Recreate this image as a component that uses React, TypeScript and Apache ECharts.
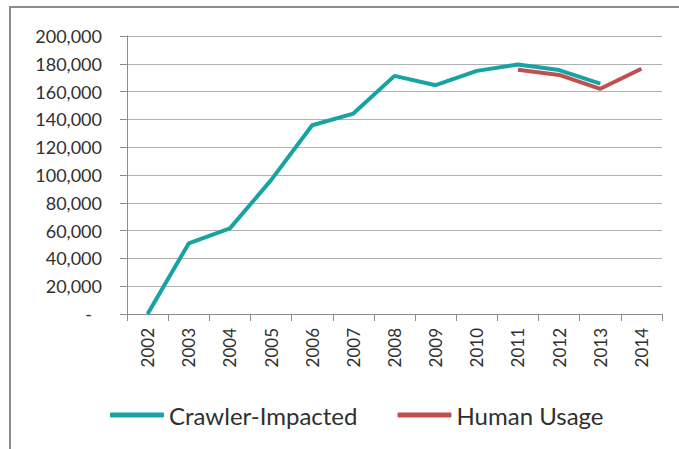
import React, { useEffect, useRef } from "react";
import * as echarts from "echarts";

const years = ["2002", "2003", "2004", "2005", "2006", "2007", "2008", "2009", "2010", "2011", "2012", "2013", "2014"];
const crawlerImpacted = [0, 50800, 61600, 96300, 135800, 144200, 171300, 164600, 174900, 179500, 175500, 165700, null];
const humanUsage = [null, null, null, null, null, null, null, null, null, 175700, 172000, 162000, 176400];
const seriesNames = ["Crawler-Impacted", "Human Usage"];
const seriesColors = ["#17A3A3", "#C0504D"];

export default function App() {
  const ref = useRef<HTMLDivElement>(null);
  useEffect(() => {
    if (!ref.current) return;
    const chart = echarts.init(ref.current, undefined, { renderer: "svg" });
    const font = "Lato";
    chart.setOption({
      animation: false,
      backgroundColor: "#ffffff",
      graphic: [
        {
          type: "rect",
          shape: { x: 10, y: 7, width: 720, height: 500 },
          style: { fill: "none", stroke: "#8c8c8c", lineWidth: 2 },
          silent: true,
        },
      ],
      grid: { left: 127, right: 17, top: 36, bottom: 135 },
      legend: {
        left: 105,
        top: 398,
        icon: "roundRect",
        itemWidth: 54,
        itemHeight: 5,
        itemGap: 40,
        textStyle: { fontFamily: font, fontSize: 24, color: "#303030" },
        data: seriesNames,
      },
      xAxis: {
        type: "category",
        data: years,
        boundaryGap: true,
        axisLine: { lineStyle: { color: "#8c8c8c", width: 1 } },
        axisTick: { show: true, length: 7, lineStyle: { color: "#8c8c8c" } },
        axisLabel: { rotate: 90, margin: 14, fontFamily: font, fontSize: 17, color: "#303030" },
        splitLine: { show: false },
      },
      yAxis: {
        type: "value",
        min: 0,
        max: 200000,
        interval: 20000,
        axisLine: { show: true, lineStyle: { color: "#8c8c8c", width: 1 } },
        axisTick: { show: true, length: 7, lineStyle: { color: "#8c8c8c" } },
        splitLine: { lineStyle: { color: "#b0b0b0", width: 1 } },
        axisLabel: {
          margin: 25,
          fontFamily: font,
          fontSize: 18,
          color: "#303030",
          formatter: (v: number) => (v === 0 ? "{d|-}" : v.toLocaleString("en-US")),
          rich: { d: { fontFamily: font, fontSize: 18, color: "#303030", padding: [0, 10, 0, 0] } },
        },
      },
      series: [
        {
          name: seriesNames[0],
          type: "line",
          data: crawlerImpacted,
          showSymbol: false,
          symbol: "none",
          lineStyle: { width: 4, color: seriesColors[0] },
          itemStyle: { color: seriesColors[0] },
        },
        {
          name: seriesNames[1],
          type: "line",
          data: humanUsage,
          showSymbol: false,
          symbol: "none",
          lineStyle: { width: 4, color: seriesColors[1] },
          itemStyle: { color: seriesColors[1] },
        },
      ],
    });
    return () => chart.dispose();
  }, []);
  return <div ref={ref} style={{ position: "fixed", left: 0, top: 0, width: 679, height: 449 }} />;
}
